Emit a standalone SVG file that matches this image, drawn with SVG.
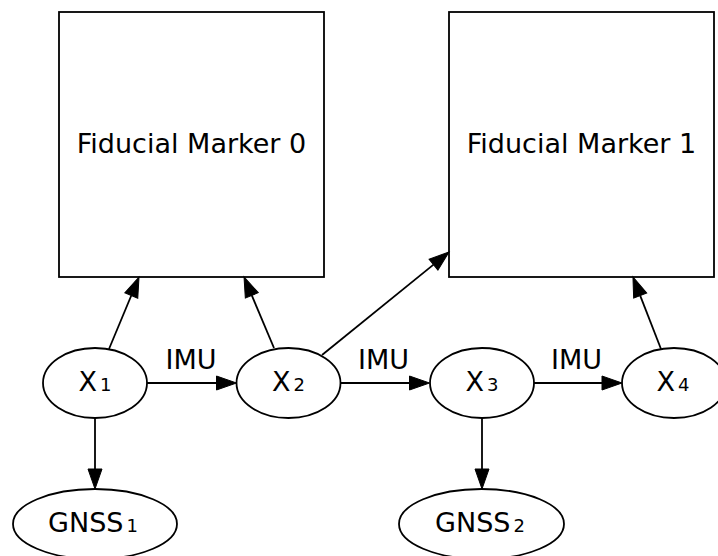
<svg xmlns="http://www.w3.org/2000/svg" width="718" height="556" viewBox="0 0 718 556">
  <style>
    .shape { fill: #ffffff; stroke: #000000; stroke-width: 1.8; }
    .edge { fill: none; stroke: #000000; stroke-width: 1.8; marker-end: url(#arrow); }
    .label { font-family: "DejaVu Sans", "Liberation Sans", sans-serif; font-size: 27px; fill: #000000; text-anchor: middle; }
    .sub { font-size: 18px; }
  </style>
  <defs>
    <marker id="arrow" markerUnits="userSpaceOnUse" markerWidth="21" markerHeight="15" refX="0" refY="7" orient="auto" overflow="visible">
      <path d="M0,0 L20,7 L0,14 Z" fill="#000000" stroke="#000000" stroke-width="1"/>
    </marker>
  </defs>
  <rect width="718" height="556" fill="#ffffff"/>

  <!-- landmark nodes -->
  <g id="marker0">
    <rect class="shape" x="59" y="12" width="265" height="265"/>
    <text class="label" x="191.5" y="153">Fiducial Marker 0</text>
  </g>
  <g id="marker1">
    <rect class="shape" x="449" y="12" width="265" height="265"/>
    <text class="label" x="581.5" y="153">Fiducial Marker 1</text>
  </g>

  <!-- pose nodes -->
  <g id="x1">
    <ellipse class="shape" cx="95" cy="383" rx="52" ry="35"/>
    <text class="label" x="95" y="391">X<tspan class="sub" dx="3">1</tspan></text>
  </g>
  <g id="x2">
    <ellipse class="shape" cx="288.5" cy="383" rx="52" ry="35"/>
    <text class="label" x="288.5" y="391">X<tspan class="sub" dx="3">2</tspan></text>
  </g>
  <g id="x3">
    <ellipse class="shape" cx="482" cy="383" rx="52" ry="35"/>
    <text class="label" x="482" y="391">X<tspan class="sub" dx="3">3</tspan></text>
  </g>
  <g id="x4">
    <ellipse class="shape" cx="674" cy="383" rx="52" ry="35"/>
    <text class="label" x="673" y="391">X<tspan class="sub" dx="3">4</tspan></text>
  </g>

  <!-- GNSS measurement nodes -->
  <g id="gnss1">
    <ellipse class="shape" cx="95" cy="524" rx="82" ry="35"/>
    <text class="label" x="93" y="532">GNSS<tspan class="sub" dx="3">1</tspan></text>
  </g>
  <g id="gnss2">
    <ellipse class="shape" cx="481.5" cy="524" rx="82.5" ry="35"/>
    <text class="label" x="480" y="532">GNSS<tspan class="sub" dx="3">2</tspan></text>
  </g>

  <!-- connectors -->
  <g id="edges">
    <line class="edge" x1="109" y1="349" x2="131.3" y2="295.5"/>
    <line class="edge" x1="274" y1="348" x2="251.8" y2="295.4"/>
    <line class="edge" x1="322" y1="355" x2="433.5" y2="264.6"/>
    <line class="edge" x1="661" y1="349" x2="640.2" y2="295.6"/>
    <line class="edge" x1="147" y1="383" x2="216.5" y2="383"/>
    <line class="edge" x1="340.5" y1="383" x2="409.5" y2="383"/>
    <line class="edge" x1="534" y1="383" x2="602" y2="383"/>
    <line class="edge" x1="95" y1="418" x2="95" y2="469"/>
    <line class="edge" x1="482" y1="418" x2="482" y2="469"/>
    <text class="label" x="191" y="369">IMU</text>
    <text class="label" x="383.5" y="369">IMU</text>
    <text class="label" x="576.5" y="369">IMU</text>
  </g>
</svg>
